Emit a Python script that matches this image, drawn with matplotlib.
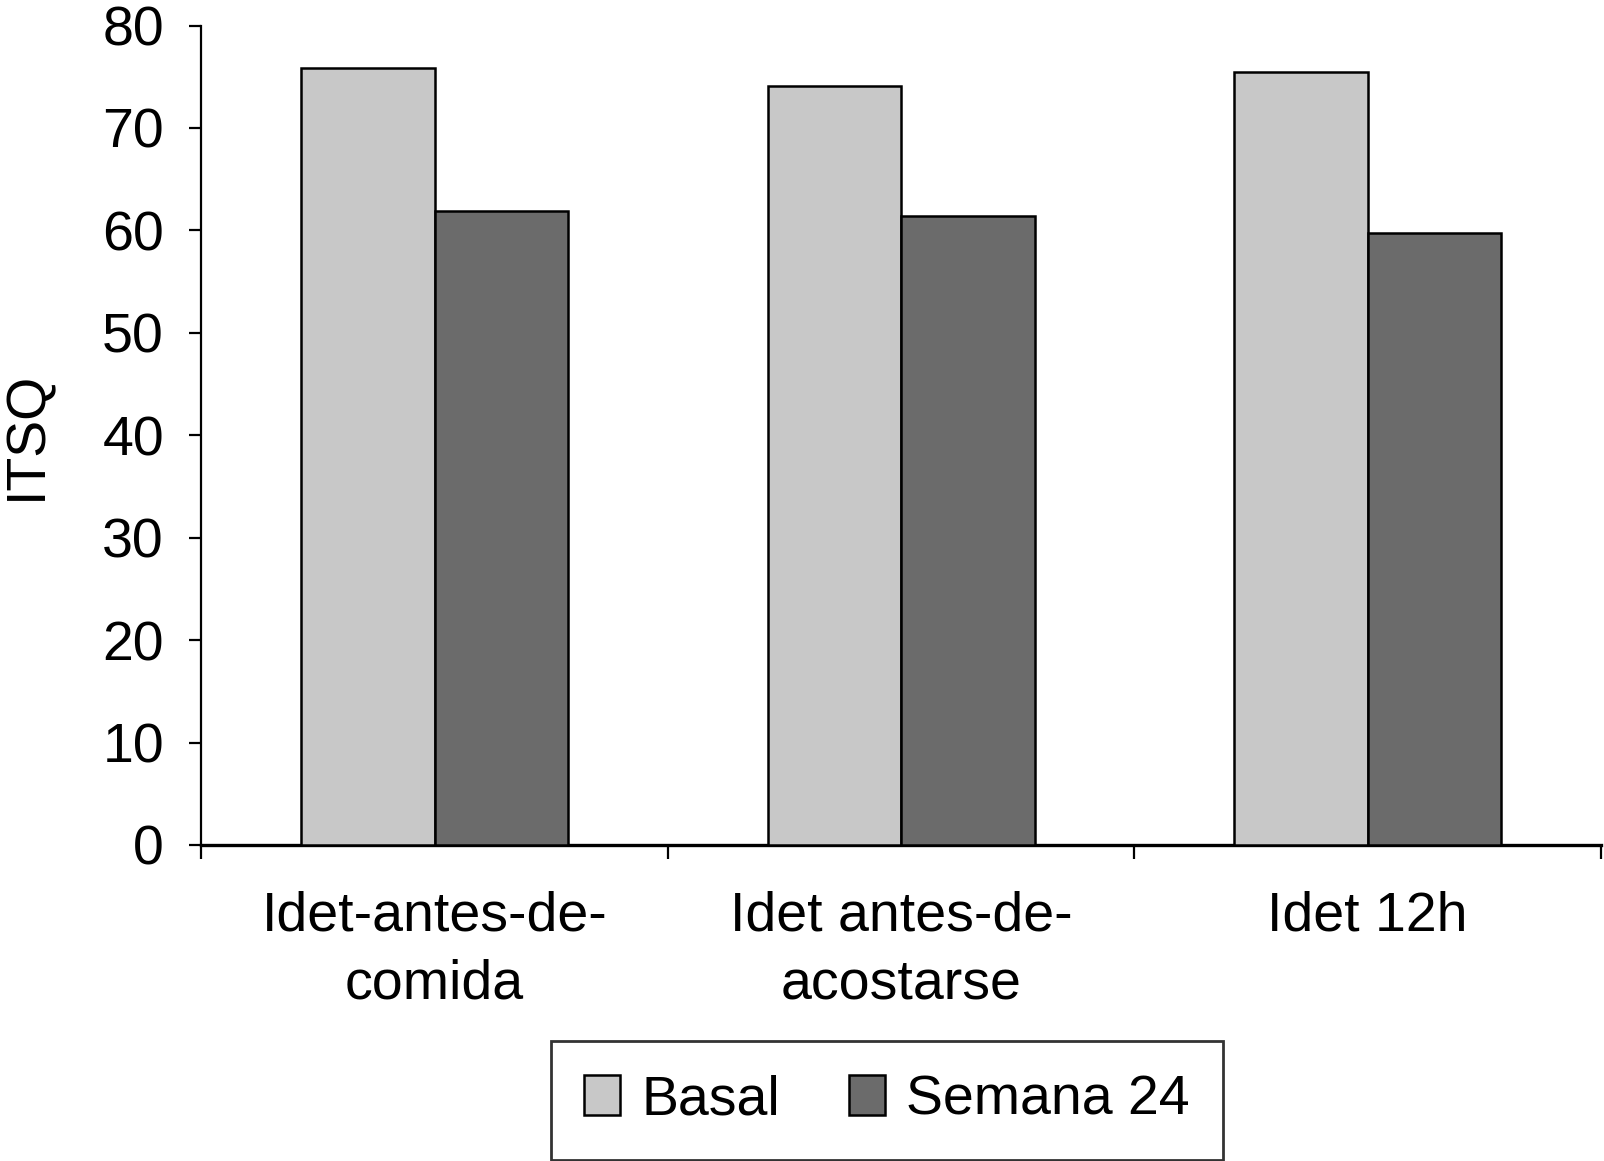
import matplotlib
matplotlib.use("Agg")
import matplotlib.pyplot as plt
import numpy as np

plt.rcParams['font.family'] = ['Liberation Sans', 'DejaVu Sans']

# chart data
categories = ["Idet-antes-de-\ncomida", "Idet antes-de-\nacostarse", "Idet 12h"]
series_names = ["Basal", "Semana 24"]
basal = [75.9, 74.1, 75.5]
semana24 = [61.9, 61.4, 59.7]
y_ticks = [0, 10, 20, 30, 40, 50, 60, 70, 80]

colors = ["#c8c8c8", "#6b6b6b"]
bar_w = 0.286
fs = 40

fig = plt.figure(figsize=(16.04, 11.61), dpi=100)
ax = fig.add_axes([0.1256, 0.2722, 0.8724, 0.7058])

x = np.arange(len(categories))
ax.bar(x - bar_w / 2, basal, bar_w, color=colors[0], edgecolor="black",
       linewidth=1.8, label=series_names[0], zorder=3)
ax.bar(x + bar_w / 2, semana24, bar_w, color=colors[1], edgecolor="black",
       linewidth=1.8, label=series_names[1], zorder=3)

ax.set_xlim(-0.5, len(categories) - 0.5)
ax.set_ylim(0, 80)
ax.set_yticks(y_ticks)

# ticks at category boundaries, labels centred on categories
ax.set_xticks(np.arange(len(categories) + 1) - 0.5)
ax.set_xticklabels([])
ax.set_xticks(x, minor=True)
ax.set_xticklabels(categories, minor=True, linespacing=1.4)
ax.tick_params(axis="x", which="major", length=10, width=1.6, direction="out")
ax.tick_params(axis="x", which="minor", length=0, pad=33, labelsize=fs)
ax.tick_params(axis="y", length=9, width=1.6, direction="out", pad=18, labelsize=fs)

for side in ["top", "right"]:
    ax.spines[side].set_visible(False)
ax.spines["left"].set_linewidth(1.6)
ax.spines["bottom"].set_linewidth(2.4)

ax.set_ylabel("ITSQ", fontsize=fs)
ax.yaxis.set_label_coords(-0.106, 0.5)

leg = fig.legend(loc="center", bbox_to_anchor=(0.553, 0.052), ncol=2,
                 fontsize=fs, frameon=True, fancybox=False, edgecolor="black",
                 handlelength=0.65, handleheight=0.72, handletextpad=0.38,
                 columnspacing=1.24, borderpad=0.6)
leg.get_frame().set_linewidth(2.0)

fig.savefig("out.png", dpi=100)
